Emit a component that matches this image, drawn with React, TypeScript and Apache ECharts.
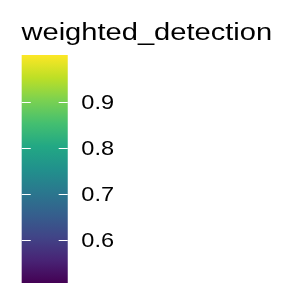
import React, { useEffect, useRef } from "react";
import * as echarts from "echarts";

const legendTitle = "weighted_detection";
const categories = ["weighted_detection"];
const limits = [0.5066, 1.0027];
const tickValues = [0.6, 0.7, 0.8, 0.9];
const viridisStops = [0, 0.1, 0.2, 0.3, 0.4, 0.5, 0.6, 0.7, 0.8, 0.9, 1.0];
const viridisColors = [
  "#440154", "#482475", "#414487", "#355F8D", "#2A788E",
  "#21918C", "#22A884", "#44BF70", "#7AD151", "#BDDF26", "#FDE725",
];

const BASE_W = 258;
const H = 284;
const STRETCH = 304 / BASE_W;

export default function App() {
  const ref = useRef<HTMLDivElement>(null);
  useEffect(() => {
    if (!ref.current) return;
    const chart = echarts.init(ref.current, null, { renderer: "svg" });
    const lo = limits[0];
    const hi = limits[1];
    const gradient = new echarts.graphic.LinearGradient(
      0, 1, 0, 0,
      viridisStops.map((s, i) => ({ offset: s, color: viridisColors[i] }))
    );
    const yAxisBase = {
      type: "value",
      min: lo,
      max: hi,
      z: 10,
      axisLine: { show: false },
      splitLine: { show: false },
      axisTick: {
        show: true,
        inside: true,
        length: 7.7,
        customValues: tickValues,
        lineStyle: { color: "#ffffff", width: 1 },
      },
    };
    chart.setOption({
      animation: false,
      title: {
        text: legendTitle,
        left: 18.2,
        top: 19,
        padding: 0,
        textStyle: {
          fontFamily: "Liberation Sans",
          fontSize: 24.7,
          fontWeight: "normal",
          color: "#000000",
        },
      },
      grid: { left: 18.4, right: BASE_W - 57.5, top: 55, bottom: 1, containLabel: false },
      xAxis: { type: "category", data: categories, show: false, boundaryGap: true },
      yAxis: [
        { ...yAxisBase, position: "left", axisLabel: { show: false } },
        {
          ...yAxisBase,
          position: "right",
          axisLabel: {
            show: true,
            customValues: tickValues,
            margin: 11.5,
            fontFamily: "Liberation Sans",
            fontSize: 20,
            color: "#000000",
            formatter: (v: number) => v.toFixed(1),
          },
        },
      ],
      series: [
        {
          type: "bar",
          stack: "bar",
          data: [lo],
          barWidth: "100%",
          itemStyle: { color: "rgba(0,0,0,0)" },
          silent: true,
        },
        {
          type: "bar",
          stack: "bar",
          data: [hi - lo],
          barWidth: "100%",
          itemStyle: { color: gradient },
          silent: true,
        },
      ],
    });
    return () => chart.dispose();
  }, []);
  return (
    <div
      ref={ref}
      style={{
        position: "fixed",
        left: 0,
        top: 0,
        width: BASE_W,
        height: H,
        transform: `scaleX(${STRETCH})`,
        transformOrigin: "left top",
      }}
    />
  );
}
